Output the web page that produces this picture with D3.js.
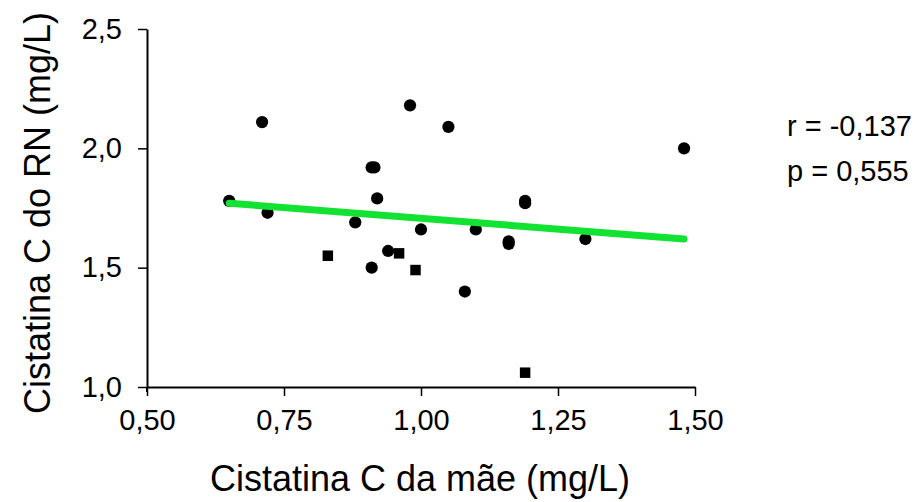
<!DOCTYPE html>
<meta http-equiv="Content-Type" content="text/html; charset=utf-8">
<style>
body { margin: 0; background: #fff; }
text { font-family: "Liberation Sans", Arial, sans-serif; fill: #000; }
</style>
<body>
<script src="https://cdn.jsdelivr.net/npm/d3@7"></script>
<script>
// circles (maternal vs newborn cystatin C)
var circX = [0.65, 0.71, 0.72, 0.88, 0.91, 0.915, 0.92, 0.91, 0.94, 0.98, 1.00, 1.05, 1.08, 1.10, 1.16, 1.16, 1.19, 1.19, 1.30, 1.48];
var circY = [1.78, 2.11, 1.73, 1.69, 1.92, 1.92, 1.79, 1.50, 1.57, 2.18, 1.66, 2.09, 1.40, 1.66, 1.60, 1.61, 1.77, 1.78, 1.62, 2.00];
// squares
var sqX = [0.83, 0.96, 0.99, 1.19];
var sqY = [1.55, 1.56, 1.49, 1.06];
// regression line ends
var fitX = [0.65, 1.48];
var fitY = [1.77, 1.62];

var xTicks = [0.50, 0.75, 1.00, 1.25, 1.50];
var yTicks = [1.0, 1.5, 2.0, 2.5];
var statLines = ["r = -0,137", "p = 0,555"];

var svg = d3.select("body").append("svg").attr("width", 922).attr("height", 502);

var x = d3.scaleLinear().domain([0.5, 1.5]).range([147, 695]);
var y = d3.scaleLinear().domain([1.0, 2.5]).range([387, 29]);

var comma = function(n, d){ return n.toFixed(d).replace(".", ","); };

var xAxis = svg.append("g").attr("transform", "translate(0,387)")
	.call(d3.axisBottom(x).tickValues(xTicks).tickSize(9).tickSizeOuter(0).tickPadding(13)
		.tickFormat(function(d){ return comma(d, 2); }));
var yAxis = svg.append("g").attr("transform", "translate(147,0)")
	.call(d3.axisLeft(y).tickValues(yTicks).tickSize(9).tickSizeOuter(0).tickPadding(16)
		.tickFormat(function(d){ return comma(d, 1); }));

[xAxis, yAxis].forEach(function(a){
	a.select(".domain").attr("stroke", "#000").attr("stroke-width", 2);
	a.selectAll(".tick line").attr("stroke", "#000").attr("stroke-width", 1.5);
	a.selectAll(".tick text").attr("font-size", 29).attr("font-family", "Liberation Sans, Arial, sans-serif").attr("fill", "#000");
});
// y axis runs a little below the x axis
svg.append("line").attr("x1", 147).attr("x2", 147).attr("y1", 387).attr("y2", 392).attr("stroke", "#000").attr("stroke-width", 2);

var circle = d3.symbol().type(d3.symbolCircle).size(118);
svg.append("g").selectAll("path").data(circX).enter().append("path")
	.attr("d", circle)
	.attr("transform", function(d, i){ return "translate(" + x(d) + "," + y(circY[i]) + ")"; })
	.attr("fill", "#000");

var square = d3.symbol().type(d3.symbolSquare).size(110);
svg.append("g").selectAll("path").data(sqX).enter().append("path")
	.attr("d", square)
	.attr("transform", function(d, i){ return "translate(" + x(d) + "," + y(sqY[i]) + ")"; })
	.attr("fill", "#000");

svg.append("path")
	.datum(fitX.map(function(d, i){ return [d, fitY[i]]; }))
	.attr("d", d3.line().x(function(d){ return x(d[0]); }).y(function(d){ return y(d[1]); }))
	.attr("stroke", "#12e232").attr("stroke-width", 7).attr("stroke-linecap", "round").attr("fill", "none");

svg.selectAll(".stat").data(statLines).enter().append("text")
	.attr("class", "stat")
	.attr("x", 787).attr("y", function(d, i){ return 136 + i * 45; })
	.attr("font-size", 29)
	.text(function(d){ return d; });

svg.append("text").attr("x", 420).attr("y", 491).attr("text-anchor", "middle")
	.attr("font-size", 36).text("Cistatina C da mãe (mg/L)");

svg.append("text").attr("transform", "translate(50,213) rotate(-90)").attr("text-anchor", "middle")
	.attr("font-size", 36).text("Cistatina C do RN (mg/L)");
</script>
</body>
</html>
